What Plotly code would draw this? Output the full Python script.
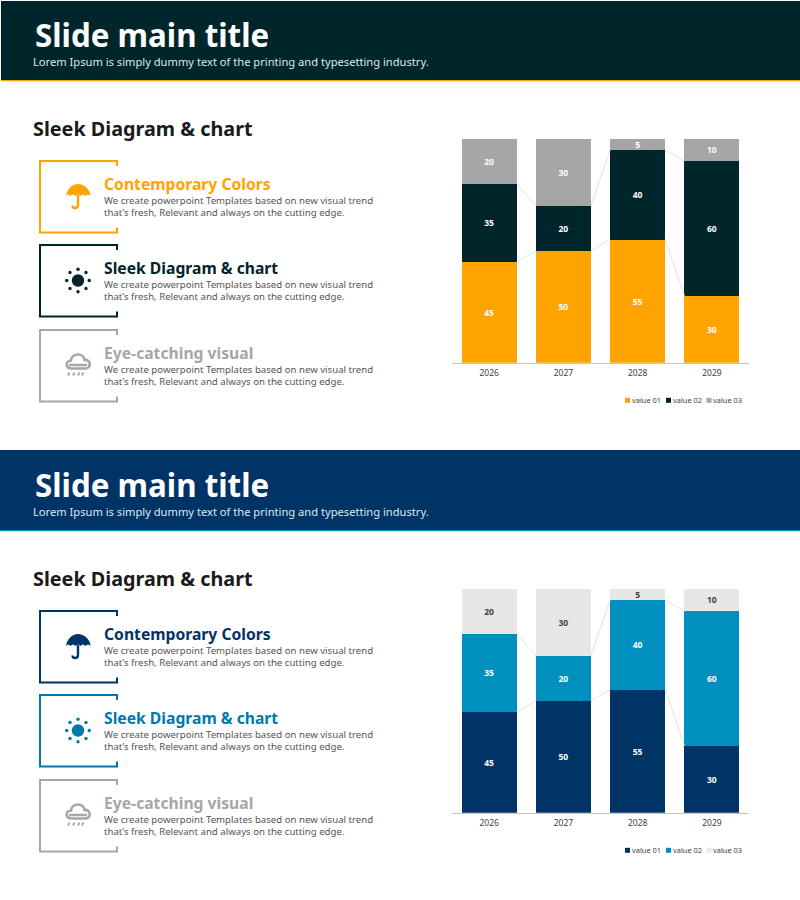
import math

from plotly import graph_objects as go

years = ["2026", "2027", "2028", "2029"]
value_01 = [45, 50, 55, 30]
value_02 = [35, 20, 40, 60]
value_03 = [20, 30, 5, 10]
series_names = ["value 01", "value 02", "value 03"]
item_titles = ["Contemporary Colors", "Sleek Diagram & chart", "Eye-catching visual"]
body_lines = ["We create powerpoint Templates based on new visual trend",
              "that\u2019s fresh, Relevant and always on the cutting edge."]

FONT = "Noto Sans"
GREY = "#A6A6A6"

themes = [
    dict(top=0, header="#00252B", rule="#FFA300", bars=["#FFA300", "#00252B", "#A6A6A6"],
         labels=["white", "white", "white"], items=["#FFA300", "#00252B", GREY]),
    dict(top=450, header="#003366", rule="#0090BF", bars=["#003366", "#0090BF", "#E7E7E7"],
         labels=["white", "white", "#404040"], items=["#003366", "#0078AE", GREY]),
]

fig = go.Figure()
shapes = []
annotations = []


def text(x, y, s, size, color, bold=False):
    annotations.append(dict(x=x, y=y, xref="x3", yref="y3", text=f"<b>{s}</b>" if bold else s, showarrow=False,
                            xanchor="left", yanchor="middle", xshift=-2, font=dict(family=FONT, size=size, color=color)))


def path(d, fill=None, line=None, width=2):
    shapes.append(dict(type="path", path=d, xref="x3", yref="y3", fillcolor=fill or "rgba(0,0,0,0)",
                       line=dict(color=line or "rgba(0,0,0,0)", width=width if line else 0)))


def umbrella(dy, color):
    path(f"M66,{dy + 196} C67,{dy + 189} 72,{dy + 184} 78,{dy + 184} C84,{dy + 184} 90,{dy + 189} 90.7,{dy + 196} "
         f"Q88,{dy + 193} 85.5,{dy + 196} Q83,{dy + 193} 80.5,{dy + 196} Q78,{dy + 193} 75.5,{dy + 196} "
         f"Q73,{dy + 193} 70.5,{dy + 196} Q68,{dy + 193} 66,{dy + 196} Z", fill=color)
    path(f"M78,{dy + 195} V{dy + 205} Q78,{dy + 208} 75,{dy + 208} Q72.5,{dy + 208} 72.5,{dy + 205.5}", line=color,
         width=2.4)


def sun(dy, color):
    cx, cy = 78, dy + 280.5
    shapes.append(dict(type="circle", xref="x3", yref="y3", x0=cx - 6.2, x1=cx + 6.2, y0=cy - 6.2, y1=cy + 6.2,
                       fillcolor=color, line=dict(width=0)))
    for i in range(8):
        a = i * math.pi / 4
        x, y = cx + 11.3 * math.cos(a), cy + 11.3 * math.sin(a)
        shapes.append(dict(type="circle", xref="x3", yref="y3", x0=x - 1.7, x1=x + 1.7, y0=y - 1.7, y1=y + 1.7,
                           fillcolor=color, line=dict(width=0)))


def cloud(dy, color):
    path(f"M71,{dy + 368.5} C65,{dy + 368} 65.5,{dy + 360.5} 71,{dy + 360.5} C71.5,{dy + 352.5} 84,{dy + 352.5} 84.5,{dy + 360} "
         f"C91,{dy + 359} 91.5,{dy + 368.5} 85.5,{dy + 368.5} Z M69,{dy + 365} H87", line=color, width=2.6)
    for x in (68, 73, 78, 82):
        path(f"M{x},{dy + 375.5} L{x + 1.5},{dy + 372.5}", line=color, width=1.8)


# one hidden pixel axis so the slide furniture can be placed like on the page
fig.update_layout(
    xaxis3=dict(domain=[0, 1], range=[0, 800], visible=False, fixedrange=True, anchor="y3"),
    yaxis3=dict(domain=[0, 1], range=[900, 0], visible=False, fixedrange=True, anchor="x3"),
)

for n, theme in enumerate(themes):
    dy = theme["top"]
    xaxis, yaxis = ("x", "y") if n == 0 else ("x2", "y2")

    for name, values, color, label in zip(series_names, [value_01, value_02, value_03], theme["bars"], theme["labels"]):
        fig.add_trace(go.Bar(x=list(range(len(years))), y=values, name=name, width=0.74,
                             text=[f"<b>{v}</b>" for v in values],
                             marker=dict(color=color, line=dict(width=0)), textposition="inside",
                             insidetextanchor="middle", textangle=0, constraintext="none", showlegend=False,
                             textfont=dict(family=FONT, size=8.5, color=label), xaxis=xaxis, yaxis=yaxis))

    # series lines between neighbouring bars
    line_x, line_y = [], []
    for stack in ([a for a in value_01], [a + b for a, b in zip(value_01, value_02)]):
        for i in range(len(years) - 1):
            line_x += [i + 0.37, i + 0.63, None]
            line_y += [stack[i], stack[i + 1], None]
    fig.add_trace(go.Scatter(x=line_x, y=line_y, mode="lines", line=dict(color="#E3E3E3", width=1), showlegend=False,
                             hoverinfo="skip", xaxis=xaxis, yaxis=yaxis))

    # header band
    top = 1 if n == 0 else dy
    shapes.append(dict(type="rect", xref="x3", yref="y3", x0=0 if n else 1, x1=800, y0=top, y1=dy + 80,
                       fillcolor=theme["header"], line=dict(width=0)))
    shapes.append(dict(type="rect", xref="x3", yref="y3", x0=0 if n else 1, x1=800, y0=dy + 80, y1=dy + 81.2,
                       fillcolor=theme["rule"], line=dict(width=0)))
    text(35, dy + 34.5, "Slide main title", 31.3, "white", bold=True)
    text(33, dy + 61.5, "Lorem Ipsum is simply dummy text of the printing and typesetting industry.", 11.15, "#DDEBEE")
    text(33, dy + 128.5, "Sleek Diagram &amp; chart", 19.8, "#1A1A1A", bold=True)

    # three text rows with their bracket frames
    frame_tops = [161, 245, 330]
    for frame_top, title, color in zip(frame_tops, item_titles, theme["items"]):
        y0, y1 = dy + frame_top, dy + frame_top + 71.5
        path(f"M117,{y0 + 5} V{y0} H40 V{y1} H117 V{y1 - 5}", line=color)
        text(104, y0 + 23, title.replace("&", "&amp;"), 15.7, color, bold=True)
        text(104, y0 + 39.5, body_lines[0], 9.65, "#555555")
        text(104, y0 + 51.5, body_lines[1], 9.65, "#555555")
    umbrella(dy, theme["items"][0])
    sun(dy, theme["items"][1])
    cloud(dy, theme["items"][2])

    # small legend under the chart
    for x, name, color in zip([625, 666, 706.5], series_names, theme["bars"]):
        shapes.append(dict(type="rect", xref="x3", yref="y3", x0=x, x1=x + 5, y0=dy + 397.8, y1=dy + 402.8,
                           fillcolor=color, line=dict(width=0)))
        text(x + 6.5, dy + 400.3, name, 7.4, "#404040")

axis_x = dict(domain=[452 / 800, 749 / 800], range=[-0.5, 3.5], tickmode="array", tickvals=list(range(len(years))),
              ticktext=years, ticks="", showgrid=False, zeroline=False, showline=True, linecolor="#C4C4C4", linewidth=1,
              ticklabelstandoff=2, tickfont=dict(family=FONT, size=8.5, color="#404040"), fixedrange=True)
axis_y = dict(range=[0, 100], visible=False, showgrid=False, fixedrange=True)

fig.update_layout(
    width=800, height=900, barmode="stack", margin=dict(l=0, r=0, t=0, b=0), showlegend=False,
    plot_bgcolor="rgba(0,0,0,0)", paper_bgcolor="white", shapes=shapes, annotations=annotations,
    xaxis=dict(axis_x, anchor="y"),
    yaxis=dict(axis_y, domain=[1 - 362.7 / 900, 1 - 138.7 / 900], anchor="x"),
    xaxis2=dict(axis_x, anchor="y2"),
    yaxis2=dict(axis_y, domain=[1 - 812.7 / 900, 1 - 588.7 / 900], anchor="x2"),
)

fig.write_html("out.html", config=dict(displayModeBar=False), post_script="document.body.style.margin='0';")
